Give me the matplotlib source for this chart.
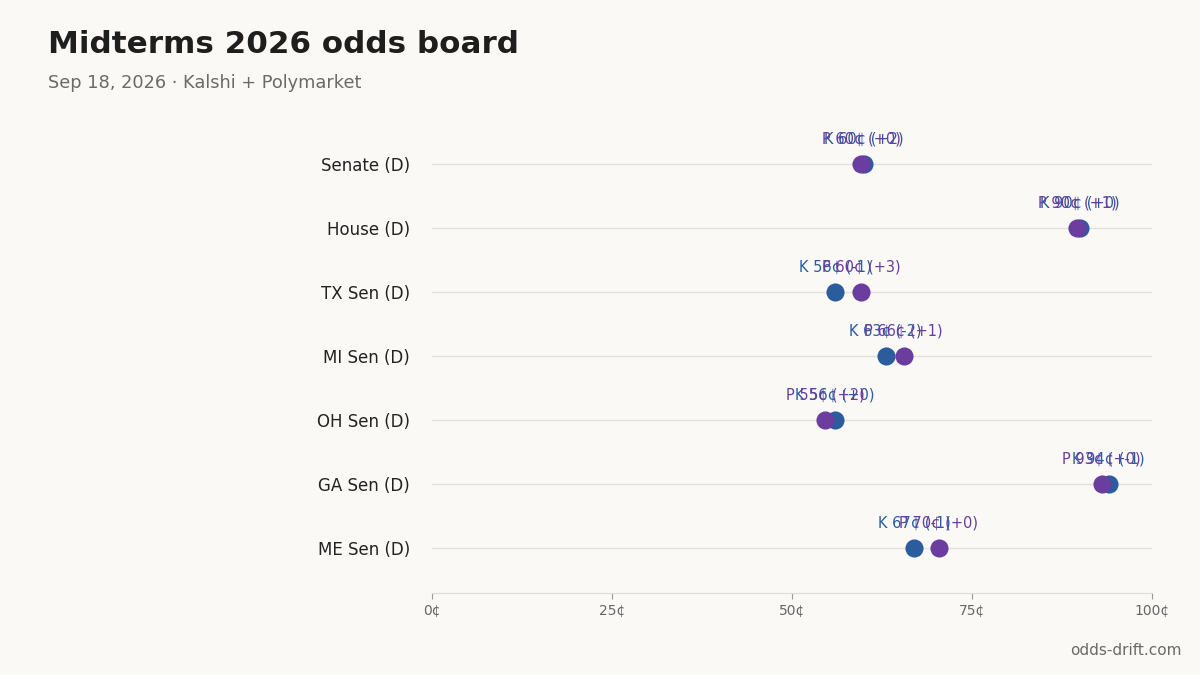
import numpy as np
import matplotlib.pyplot as plt

# odds board data
races = ['Senate (D)', 'House (D)', 'TX Sen (D)', 'MI Sen (D)', 'OH Sen (D)', 'GA Sen (D)', 'ME Sen (D)']
kalshi = [60, 90, 56, 63, 56, 94, 67]
kalshi_chg = [2, 0, -1, -2, 0, -1, -1]
poly = [59.6, 89.6, 59.6, 65.5, 54.6, 93, 70.4]
poly_chg = [0, 1, 3, 1, 2, 0, 0]

BG = '#FAF9F6'
K_COL = '#2A5C9E'
P_COL = '#6A3D9E'

fig = plt.figure(figsize=(12, 6.75), dpi=100, facecolor=BG)
ax = fig.add_axes([0.36, 0.1215, 0.60, 0.7022])
ax.set_facecolor(BG)

y = np.arange(len(races))
for yi in y:
    ax.axhline(yi, color='#E2E0DC', lw=1, zorder=0)

ax.scatter(kalshi, y, s=170, color=K_COL, zorder=3, linewidths=0)
ax.scatter(poly, y, s=170, color=P_COL, zorder=4, linewidths=0)

def fmt(name, v, c):
    sign = '+' if c >= 0 else '-'
    return f'{name} {round(v):.0f}¢ ({sign}{abs(c)})'

# labels sit right above each dot (they collide when the two markets agree)
for i in range(len(races)):
    ax.annotate(fmt('K', kalshi[i], kalshi_chg[i]), (kalshi[i], y[i]), xytext=(0, 12.5),
                textcoords='offset points', ha='center', va='bottom', fontsize=10.5, color=K_COL)
    ax.annotate(fmt('P', poly[i], poly_chg[i]), (poly[i], y[i]), xytext=(0, 12.5),
                textcoords='offset points', ha='center', va='bottom', fontsize=10.5, color=P_COL)

ax.set_xlim(0, 100)
ax.set_ylim(len(races) - 1 + 0.7, -0.7)
ax.set_yticks(y)
ax.set_yticklabels(races, fontsize=12, color='#222222')
ax.tick_params(axis='y', length=0, pad=16)
ax.set_xticks([0, 25, 50, 75, 100])
ax.set_xticklabels(['0¢', '25¢', '50¢', '75¢', '100¢'], fontsize=10, color='#666666')
ax.tick_params(axis='x', length=4, color='#999999', pad=4)
for s in ['top', 'right', 'left']:
    ax.spines[s].set_visible(False)
ax.spines['bottom'].set_color('#DDDBD7')

fig.text(0.04, 0.934, 'Midterms 2026 odds board', fontsize=22.3, fontweight='bold',
         color='#1E1E1C', va='center')
fig.text(0.04, 0.877, 'Sep 18, 2026 · Kalshi + Polymarket', fontsize=12.8,
         color='#6B6B66', va='center')
fig.text(0.985, 0.037, 'odds-drift.com', fontsize=11, color='#6B6B66', ha='right', va='center')

fig.savefig('out.png', dpi=100, facecolor=BG)
